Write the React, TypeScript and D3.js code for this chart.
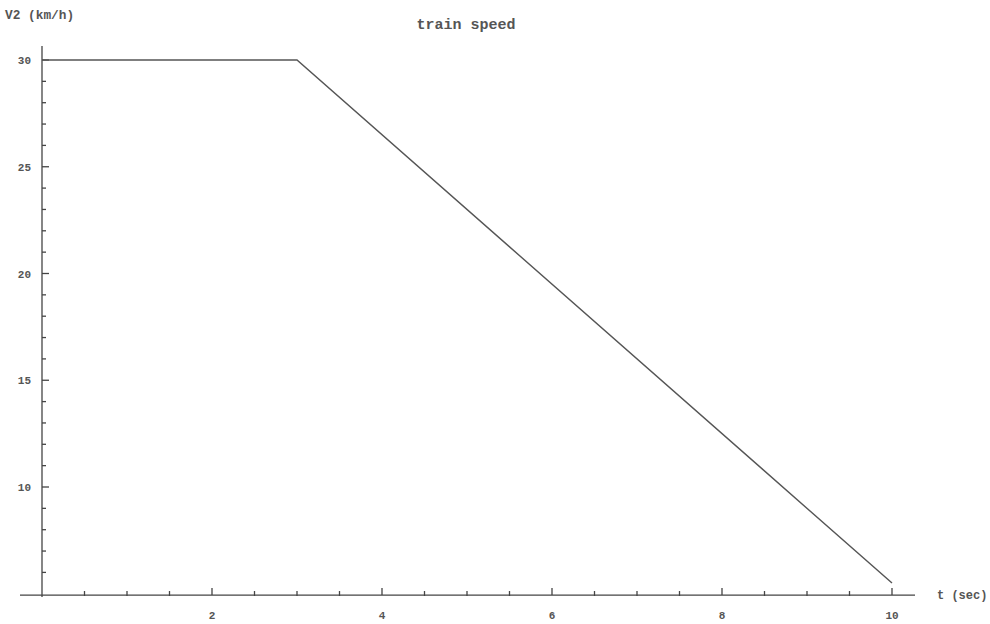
import React from "react";
import * as d3 from "d3";

const timeSec = [0, 3, 10];
const speedKmh = [30, 30, 5.5];
const xTickLabels = [2, 4, 6, 8, 10];
const yTickLabels = [10, 15, 20, 25, 30];
const title = "train speed";
const xLabel = "t (sec)";
const yLabel = "V2 (km/h)";

export default function App() {
  const W = 990, H = 624;
  const x = d3.scaleLinear().domain([0, 10]).range([42, 892]);
  const y = d3.scaleLinear().domain([10, 30]).range([487, 60]);
  const axisY = y(4.94);
  const axisX = x(0);
  const line = d3.line<number>().x((_, i) => x(timeSec[i])).y((d) => y(d));
  const xMinor = d3.range(0.5, 10.01, 0.5).filter((v) => Math.abs(v % 2) > 1e-6);
  const yMinor = d3.range(5, 30.01, 1).filter((v) => v % 5 !== 0);
  const font = "'Liberation Mono', 'DejaVu Sans Mono', monospace";
  const tc = "#555";
  return (
    <svg width={W} height={H} style={{ position: "absolute", left: 0, top: 0, background: "#fff" }}>
      <g stroke="#444" strokeWidth={1.3}>
        <line x1={20} x2={915} y1={axisY} y2={axisY} />
        <line x1={axisX} x2={axisX} y1={y(30.66)} y2={axisY + 2} />
        {xTickLabels.map((v) => (
          <line key={"xm" + v} x1={x(v)} x2={x(v)} y1={axisY} y2={axisY - 7} />
        ))}
        {xMinor.map((v) => (
          <line key={"xn" + v} x1={x(v)} x2={x(v)} y1={axisY + 1} y2={axisY - 4} />
        ))}
        {yTickLabels.map((v) => (
          <line key={"ym" + v} x1={axisX} x2={axisX + 7} y1={y(v)} y2={y(v)} />
        ))}
        {yMinor.map((v) => (
          <line key={"yn" + v} x1={axisX} x2={axisX + 4} y1={y(v)} y2={y(v)} />
        ))}
      </g>
      <path d={line(speedKmh) || ""} fill="none" stroke="#555" strokeWidth={1.4} />
      <g fontFamily={font} fontSize={11} fill={tc} fontWeight="bold">
        {xTickLabels.map((v) => (
          <text key={"xl" + v} x={x(v)} y={axisY + 24} textAnchor="middle">{v}</text>
        ))}
        {yTickLabels.map((v) => (
          <text key={"yl" + v} x={31} y={y(v) + 4} textAnchor="end">{v}</text>
        ))}
        <text x={5} y={19} fontSize={12.8}>{yLabel}</text>
        <text x={937} y={axisY + 4} fontSize={12}>{xLabel}</text>
        <text x={466} y={29} textAnchor="middle" fontSize={15}>{title}</text>
      </g>
    </svg>
  );
}
